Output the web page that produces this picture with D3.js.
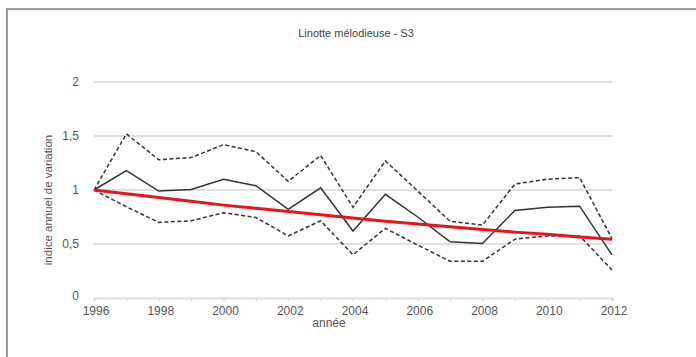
<!DOCTYPE html>
<html><head><meta charset="utf-8">
<script src="https://cdn.jsdelivr.net/npm/d3@7"></script>
<style>body{margin:0;background:#fff}svg{display:block}</style>
</head><body>
<svg id="c" width="696" height="357"></svg>
<script>
const years = d3.range(1996, 2013);
const indice = [1.0,1.18,0.99,1.005,1.10,1.04,0.82,1.02,0.62,0.96,0.75,0.52,0.505,0.81,0.84,0.85,0.40];
const upper  = [1.0,1.52,1.28,1.30,1.42,1.355,1.08,1.32,0.84,1.27,0.99,0.71,0.675,1.055,1.10,1.115,0.55];
const lower  = [1.0,0.845,0.70,0.715,0.79,0.745,0.575,0.715,0.40,0.645,0.49,0.34,0.34,0.545,0.575,0.575,0.26];
const trend  = [1.0,0.965,0.93,0.895,0.86,0.83,0.80,0.77,0.74,0.71,0.685,0.66,0.635,0.61,0.59,0.565,0.545];
const yTicks = [0,0.5,1,1.5,2];
const xTickLabels = [1996,1998,2000,2002,2004,2006,2008,2010,2012];

const svg = d3.select("#c");
const x = d3.scaleLinear().domain([1996,2012]).range([94,612]);
const y = d3.scaleLinear().domain([0,2]).range([298,82]);
const font = "Liberation Sans, Arial, sans-serif";

// frame
svg.append("line").attr("x1",7).attr("x2",696).attr("y1",9).attr("y2",9).attr("stroke","#9a9a9a").attr("stroke-width",2);
svg.append("line").attr("x1",7).attr("x2",7).attr("y1",8).attr("y2",357).attr("stroke","#9a9a9a").attr("stroke-width",2);

// gridlines
svg.append("g").selectAll("line").data(yTicks.filter(d=>d>0)).join("line")
  .attr("x1",x(1996)).attr("x2",x(2012)).attr("y1",d=>y(d)).attr("y2",d=>y(d))
  .attr("stroke","#e0e0e0").attr("stroke-width",2);

// x axis
const xa = svg.append("g").attr("transform",`translate(0,${y(0)})`)
  .call(d3.axisBottom(x).tickValues(years).tickSize(3).tickFormat(""));
xa.select(".domain").attr("stroke","#e0e0e0").attr("stroke-width",2);
xa.selectAll(".tick line").attr("stroke","#d0d0d0");
svg.append("g").selectAll("text").data(xTickLabels).join("text")
  .attr("x",d=>x(d)+2).attr("y",315).attr("text-anchor","middle")
  .attr("font-family",font).attr("font-size",12).attr("fill","#555").text(d=>d);

// y axis labels
const fmt = d => String(d).replace(".",",");
svg.append("g").selectAll("text").data(yTicks).join("text")
  .attr("x",79).attr("y",d=> d===0 ? y(d)+2 : y(d)+4).attr("text-anchor","end")
  .attr("font-family",font).attr("font-size",12).attr("fill","#555").text(fmt);

// titles
svg.append("text").attr("x",356).attr("y",37).attr("text-anchor","middle")
  .attr("font-family",font).attr("font-size",11).attr("fill","#444").text("Linotte mélodieuse - S3");
svg.append("text").attr("x",329).attr("y",327).attr("text-anchor","middle")
  .attr("font-family",font).attr("font-size",12).attr("fill","#555").text("année");
svg.append("text").attr("transform","translate(52,200) rotate(-90)").attr("text-anchor","middle")
  .attr("font-family",font).attr("font-size",11.5).attr("fill","#555").text("indice annuel de variation");

const line = d3.line().x((d,i)=>x(years[i])).y(d=>y(d));
svg.append("path").datum(upper).attr("d",line).attr("fill","none").attr("stroke","#333").attr("stroke-width",1.5).attr("stroke-dasharray","4,2.5");
svg.append("path").datum(lower).attr("d",line).attr("fill","none").attr("stroke","#333").attr("stroke-width",1.5).attr("stroke-dasharray","4,2.5");
svg.append("path").datum(indice).attr("d",line).attr("fill","none").attr("stroke","#333").attr("stroke-width",1.5);
svg.append("path").datum(trend).attr("d",line).attr("fill","none").attr("stroke","#e8141a").attr("stroke-width",3);
</script>
</body></html>
